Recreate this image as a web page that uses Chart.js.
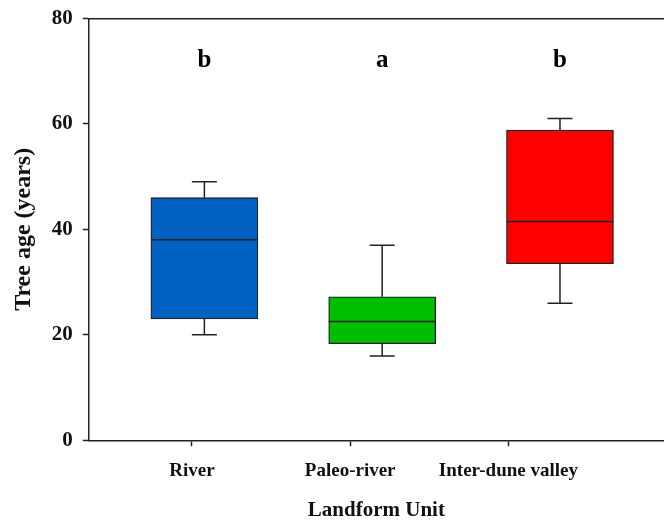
<!DOCTYPE html>
<html>
<head>
<meta charset="utf-8">
<script src="https://cdn.jsdelivr.net/npm/chart.js@4"></script>
<style>
  body { margin: 0; background: #fff; overflow: hidden; }
  #wrap { width: 664px; height: 520px; }
</style>
</head>
<body>
<div id="wrap"><canvas id="boxChart"></canvas></div>
<script>
// values
const categories = ['River', 'Paleo-river', 'Inter-dune valley'];
const whiskerLow = [20, 16, 26];
const q1 = [23, 18.3, 33.5];
const median = [38, 22.5, 41.5];
const q3 = [46, 27.2, 58.8];
const whiskerHigh = [49, 37, 61];
const letters = ['b', 'a', 'b'];
const letterLevel = 72;
const yTicks = [0, 20, 40, 60, 80];
const boxPos = [1, 2, 3];
const tickPos = [0.93, 1.82, 2.71];
const boxColors = ['#0061C2', '#00BE00', '#FF0000'];

const serif = '"Liberation Serif", "DejaVu Serif", serif';
const ink = '#222';

const boxExtras = {
  id: 'boxExtras',
  afterDatasetsDraw(chart) {
    const ctx = chart.ctx;
    const xs = chart.scales.x;
    const ys = chart.scales.y;
    const meta = chart.getDatasetMeta(0);
    ctx.save();
    ctx.strokeStyle = ink;
    ctx.lineWidth = 1.5;
    boxPos.forEach(function (p, i) {
      const x = xs.getPixelForValue(p);
      const half = meta.data[i].width / 2;
      const cap = 12.5;
      const yMed = ys.getPixelForValue(median[i]);
      const yLo = ys.getPixelForValue(whiskerLow[i]);
      const yHi = ys.getPixelForValue(whiskerHigh[i]);
      const yQ1 = ys.getPixelForValue(q1[i]);
      const yQ3 = ys.getPixelForValue(q3[i]);
      ctx.beginPath();
      ctx.moveTo(x - half, yMed); ctx.lineTo(x + half, yMed);
      ctx.moveTo(x, yQ3); ctx.lineTo(x, yHi);
      ctx.moveTo(x - cap, yHi); ctx.lineTo(x + cap, yHi);
      ctx.moveTo(x, yQ1); ctx.lineTo(x, yLo);
      ctx.moveTo(x - cap, yLo); ctx.lineTo(x + cap, yLo);
      ctx.stroke();

      ctx.fillStyle = '#000';
      ctx.font = 'bold 25px ' + serif;
      ctx.textAlign = 'center';
      ctx.textBaseline = 'middle';
      ctx.fillText(letters[i], x, ys.getPixelForValue(letterLevel));
    });
    ctx.restore();
  }
};

new Chart(document.getElementById('boxChart'), {
  type: 'bar',
  data: {
    datasets: [{
      data: boxPos.map(function (p, i) { return { x: p, y: [q1[i], q3[i]] }; }),
      backgroundColor: boxColors,
      borderColor: ink,
      borderWidth: 1.3,
      borderSkipped: false,
      barThickness: 107
    }]
  },
  options: {
    responsive: true,
    maintainAspectRatio: false,
    animation: false,
    layout: { padding: { top: 8.5, right: 0, left: 9, bottom: 0 } },
    plugins: {
      legend: { display: false },
      tooltip: { enabled: false }
    },
    scales: {
      x: {
        type: 'linear',
        offset: false,
        min: 0.35,
        max: 3.585,
        afterBuildTicks: function (axis) {
          axis.ticks = tickPos.map(function (v) { return { value: v }; });
        },
        ticks: {
          autoSkip: false,
          maxRotation: 0,
          padding: 15.5,
          color: '#111',
          font: { family: serif, size: 19, weight: 'bold', lineHeight: 1 },
          callback: function (value, index) { return categories[index]; }
        },
        grid: { offset: false, drawOnChartArea: false, tickLength: 6, tickWidth: 1.5, color: ink },
        border: { display: true, color: ink, width: 1.5 },
        title: {
          display: true,
          text: 'Landform Unit',
          color: '#111',
          padding: { top: 5.9, bottom: 0 },
          font: { family: serif, size: 21, weight: 'bold', lineHeight: 0.85 }
        }
      },
      xTop: {
        type: 'linear',
        position: 'top',
        display: true,
        ticks: { display: false },
        grid: { display: false },
        border: { display: true, color: ink, width: 1.5 }
      },
      y: {
        min: 0,
        max: 80,
        afterBuildTicks: function (axis) {
          axis.ticks = yTicks.map(function (v) { return { value: v }; });
        },
        ticks: {
          padding: 10,
          color: '#111',
          font: { family: serif, size: 21, weight: 'bold', lineHeight: 0.8 }
        },
        grid: { drawOnChartArea: false, tickLength: 6, tickWidth: 1.5, color: ink },
        border: { display: true, color: ink, width: 1.5 },
        title: {
          display: true,
          text: 'Tree age (years)',
          color: '#111',
          padding: { top: 0, bottom: 4 },
          font: { family: serif, size: 24, weight: 'bold' }
        }
      }
    }
  },
  plugins: [boxExtras]
});
</script>
</body>
</html>
